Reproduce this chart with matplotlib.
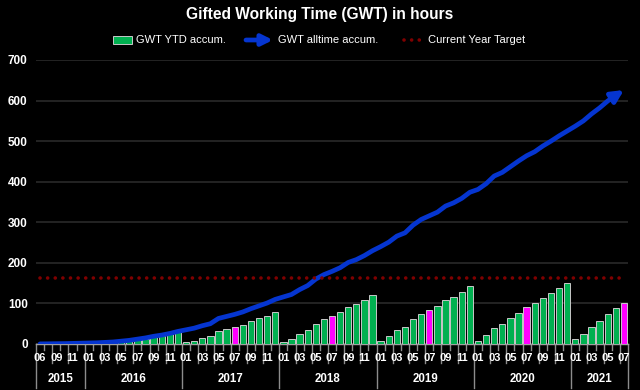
import matplotlib
matplotlib.use("Agg")
import matplotlib.pyplot as plt
import matplotlib.patches as mpatches
from matplotlib.lines import Line2D
import matplotlib.transforms as mtransforms

plt.rcParams['font.family'] = ['Liberation Sans', 'DejaVu Sans']

# ---------------- data ----------------
years = [2015, 2016, 2017, 2018, 2019, 2020, 2021]
months_2015 = ['06', '07', '09', '10', '11', '12']
months_full = ['01', '02', '03', '04', '05', '06', '07', '08', '09', '10', '11', '12']
months_2021 = ['01', '02', '03', '04', '05', '06', '07']

ytd_2015 = [0.3, 0.5, 0.8, 1.0, 1.5, 2.0]
ytd_2016 = [0.5, 1, 2, 3, 5, 7, 10, 13, 17, 20, 24, 29]
ytd_2017 = [4, 8, 14, 19, 32, 37, 42, 48, 56, 63, 70, 78]
ytd_2018 = [6, 12, 24, 34, 50, 61, 69, 78, 91, 98, 108, 120]
ytd_2019 = [8, 19, 34, 42, 61, 75, 84, 93, 108, 116, 127, 142]
ytd_2020 = [7, 21, 40, 49, 63, 77, 90, 100, 114, 126, 139, 151]
ytd_2021 = [12, 25, 42, 57, 74, 88, 102]

all_2015 = [0.3, 0.5, 0.8, 1.0, 1.5, 2.0]
all_2016 = [2.5, 3, 4, 5, 7, 9, 12, 15, 19, 22, 26, 31]
all_2017 = [35, 39, 45, 50, 63, 68, 73, 79, 87, 94, 101, 110]
all_2018 = [116, 122, 134, 144, 160, 171, 179, 188, 201, 208, 218, 230]
all_2019 = [240, 251, 266, 274, 293, 307, 316, 325, 340, 348, 359, 374]
all_2020 = [381, 395, 414, 423, 437, 451, 464, 474, 488, 500, 513, 525]
all_2021 = [537, 550, 567, 582, 599, 613, 626]

target = 163
highlight_month = '07'
highlight_years = [2017, 2018, 2019, 2020, 2021]
yticks = [0, 100, 200, 300, 400, 500, 600, 700]
legend_labels = ['GWT YTD accum.', 'GWT alltime accum.', 'Current Year Target']
title = 'Gifted Working Time (GWT) in hours'

# ---------------- assemble ----------------
month_groups = [months_2015] + [months_full] * 5 + [months_2021]
ytd = ytd_2015 + ytd_2016 + ytd_2017 + ytd_2018 + ytd_2019 + ytd_2020 + ytd_2021
alltime = all_2015 + all_2016 + all_2017 + all_2018 + all_2019 + all_2020 + all_2021
cat_month, cat_year = [], []
for y, ms in zip(years, month_groups):
    for m in ms:
        cat_month.append(m)
        cat_year.append(y)
n = len(cat_month)
x = list(range(n))

GREEN = '#00B050'
MAGENTA = '#FF00FF'
BLUE = '#0535D0'
RED = '#800000'
GRID = '#2A2A2A'
AXC = '#A0A0A0'
W, H = 640, 390

fig = plt.figure(figsize=(6.4, 3.9), dpi=100, facecolor='black')
ax = fig.add_axes([36 / W, 1 - 344 / H, 592 / W, 284 / H])
ax.set_facecolor('black')

colors = [MAGENTA if (m == highlight_month and y in highlight_years) else GREEN
          for m, y in zip(cat_month, cat_year)]
ax.bar(x, ytd, width=0.78, color=colors, edgecolor='#C8C8C8', linewidth=0.7, zorder=3)

ax.plot(x[:-1], alltime[:-1], color=BLUE, lw=3.4, solid_joinstyle='round',
        solid_capstyle='round', zorder=4)
ax.annotate('', xy=(x[-1], alltime[-1]), xytext=(x[-2], alltime[-2]),
            arrowprops=dict(arrowstyle='-|>', color=BLUE, lw=3.4,
                            mutation_scale=18, shrinkA=0, shrinkB=0), zorder=4)

ax.plot([x[0], x[-1]], [target, target], color=RED, lw=2.6,
        dashes=(0.01, 2.1), dash_capstyle='round', zorder=5)

ax.set_xlim(-0.5, n - 0.5)
ax.set_ylim(0, 700)
ax.set_yticks(yticks)
ax.set_yticklabels([str(v) for v in yticks], color='white', fontsize=8.5, fontweight='bold')
ax.tick_params(axis='y', length=0, pad=6)
ax.yaxis.grid(True, color=GRID, lw=1.2)
ax.set_axisbelow(True)
for s in ['left', 'right', 'top']:
    ax.spines[s].set_visible(False)
ax.spines['bottom'].set_color(AXC)
ax.spines['bottom'].set_linewidth(1.0)
ax.set_xticks([])

# multi-level category axis
trans = mtransforms.blended_transform_factory(ax.transData, ax.transAxes)
year_starts = []
for i in range(n):
    if i == 0 or cat_year[i] != cat_year[i - 1]:
        year_starts.append(i)
for i in range(n + 1):
    b = i - 0.5
    if i in year_starts or i == n:
        y1 = -0.155
    elif (i - max(s for s in year_starts if s <= i)) % 2 == 0:
        y1 = -0.067
    else:
        y1 = -0.022
    ax.add_line(Line2D([b, b], [0, y1], transform=trans, color='#8C8C8C', lw=1.0, clip_on=False))
for i in range(n):
    start = max(s for s in year_starts if s <= i)
    if (i - start) % 2 == 0:
        ax.text(i, -0.049, cat_month[i], transform=trans, ha='center', va='center',
                color='white', fontsize=8.0, fontweight='bold')
for k, s in enumerate(year_starts):
    e = year_starts[k + 1] if k + 1 < len(year_starts) else n
    ax.text((s + e - 1) / 2, -0.123, str(cat_year[s]), transform=trans, ha='center',
            va='center', color='white', fontsize=8.3, fontweight='bold')

fig.text(0.5, 1 - 15 / H, title, ha='center', va='center',
         color='white', fontsize=11.2, fontweight='bold')

# legend (drawn manually in figure pixel coordinates)
ft = fig.transFigure
ly = 1 - 40 / H
fig.patches.append(mpatches.Rectangle((113 / W, 1 - 44 / H), 19 / W, 8 / H, transform=ft,
                                      facecolor=GREEN, edgecolor='#C8C8C8', lw=0.7))
fig.patches.append(mpatches.FancyArrowPatch((246 / W, ly), (273 / W, ly), transform=ft,
                                            arrowstyle='-|>', mutation_scale=16,
                                            color=BLUE, lw=3.4, shrinkA=0, shrinkB=0))
fig.lines.append(Line2D([404 / W, 420 / W], [ly, ly], transform=ft, color=RED, lw=2.6,
                        dashes=(0.01, 2.1), dash_capstyle='round'))
for lx, lab in zip([136, 278, 428], legend_labels):
    fig.text(lx / W, ly, lab, ha='left', va='center', color='white', fontsize=8.0)

fig.savefig('out.png', dpi=100, facecolor='black')
